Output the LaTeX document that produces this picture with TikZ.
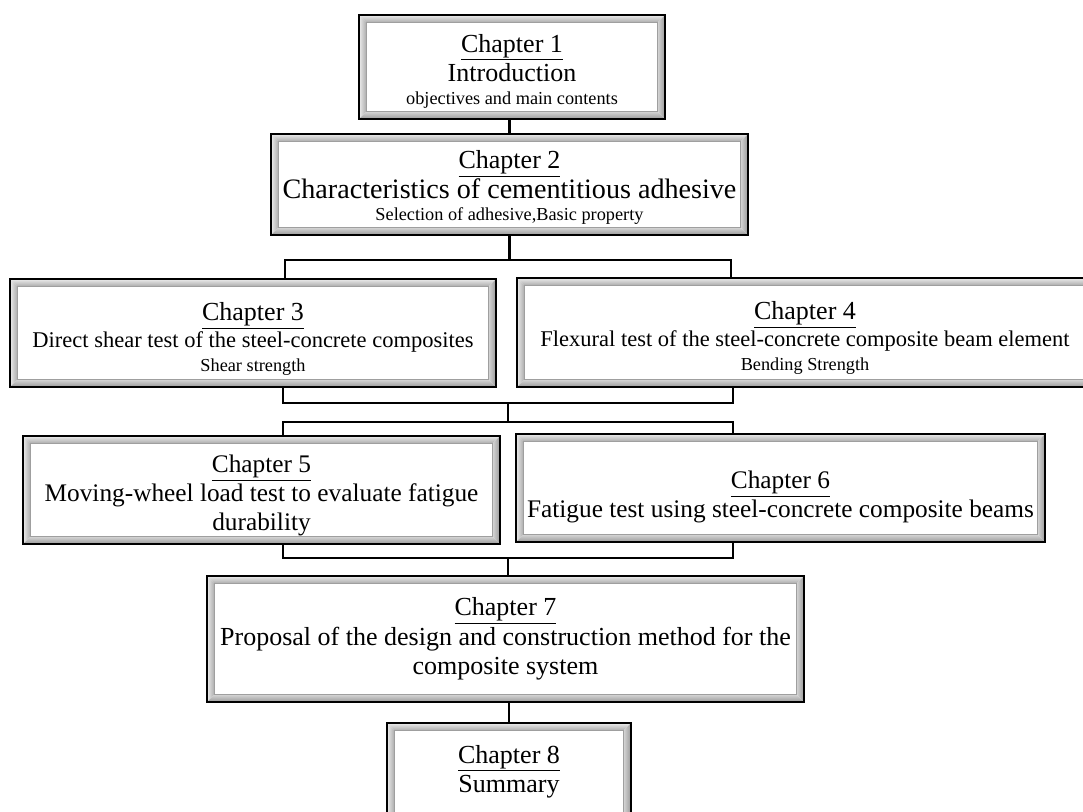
\documentclass[tikz,border=0pt]{standalone}
\usepackage{fontspec}
\setmainfont{Liberation Serif}
\newcommand{\subsize}{\fontsize{13}{15}\selectfont}
\newcommand{\midsize}{\fontsize{16}{19}\selectfont}
\newcommand{\chapline}[2][0pt]{\rule{0pt}{#1}\underline{Chapter #2}}
\newlength{\bev}\setlength{\bev}{0.18cm}

\begin{document}
\begin{tikzpicture}[x=0.025cm,y=-0.025cm,
  boxsize/.style 2 args={minimum width=#1*0.025cm, minimum height=#2*0.025cm},
  chap/.style={draw=black, line width=2pt, fill=white, align=center, inner sep=0pt,
    font=\fontsize{18.5}{21}\selectfont,
    path picture={
      \path (path picture bounding box.north west) coordinate (pnw)
            (path picture bounding box.north east) coordinate (pne)
            (path picture bounding box.south west) coordinate (psw)
            (path picture bounding box.south east) coordinate (pse);
      \shade[top color=gray!15, bottom color=gray!65]
        (pnw) -- (pne) -- ([xshift=-\bev,yshift=-\bev]pne) -- ([xshift=\bev,yshift=-\bev]pnw) -- cycle;
      \shade[left color=gray!15, right color=gray!65]
        (pnw) -- ([xshift=\bev,yshift=-\bev]pnw) -- ([xshift=\bev,yshift=\bev]psw) -- (psw) -- cycle;
      \shade[top color=gray!35, bottom color=gray!80]
        (psw) -- ([xshift=\bev,yshift=\bev]psw) -- ([xshift=-\bev,yshift=\bev]pse) -- (pse) -- cycle;
      \shade[left color=gray!35, right color=gray!80]
        (pne) -- (pse) -- ([xshift=-\bev,yshift=\bev]pse) -- ([xshift=-\bev,yshift=-\bev]pne) -- cycle;
      \draw[gray!75, line width=0.6pt] ([xshift=\bev,yshift=-\bev]pnw) rectangle ([xshift=-\bev,yshift=\bev]pse);
    }},
  link/.style={draw=black, line width=1.5pt}]
\useasboundingbox (0,0) rectangle (1083,811);

% boxes
\node[chap, boxsize={306}{104}] (c1) at (512,67)
  {\chapline[18.5pt]{1}\\Introduction\\[-5pt]{\subsize objectives and main contents}};
\node[chap, boxsize={477}{101}] (c2) at (509.5,184.5)
  {\chapline[17pt]{2}\\{\fontsize{20}{21}\selectfont Characteristics of cementitious adhesive}\\[-5pt]{\subsize Selection of adhesive,Basic property}};
\node[chap, boxsize={486}{108}] (c3) at (253,333)
  {\chapline[21pt]{3}\\[-2pt]{\midsize Direct shear test of the steel-concrete composites}\\[-4pt]{\subsize Shear strength}};
\node[chap, boxsize={576}{109}] (c4) at (805,332.5)
  {\chapline[21pt]{4}\\[-2pt]{\midsize Flexural test of the steel-concrete composite beam element}\\[-4pt]{\subsize Bending Strength}};
\node[chap, boxsize={477}{108}, font=\fontsize{18}{20.5}\selectfont] (c5) at (261.5,490)
  {\chapline[20pt]{5}\\Moving-wheel load test to evaluate fatigue\\durability};
\node[chap, boxsize={529}{108}, font=\fontsize{18}{20.5}\selectfont] (c6) at (780.5,488)
  {\chapline[25pt]{6}\\Fatigue test using steel-concrete composite beams};
\node[chap, boxsize={597}{126}] (c7) at (505.5,639)
  {\chapline{7}\\Proposal of the design and construction method for the\\composite system};
\node[chap, boxsize={244}{114}] (c8) at (509,780)
  {\chapline{8}\\Summary\rule[-16pt]{0pt}{1pt}};

% junctions
\coordinate (l1) at (285,260);
\coordinate (r1) at (731,260);
\coordinate (l2) at (283,403);
\coordinate (m2) at (508,403);
\coordinate (r2) at (733,403);
\coordinate (l3) at (283,422);
\coordinate (r3) at (733,422);
\coordinate (l4) at (283,558);
\coordinate (m4) at (508,558);
\coordinate (r4) at (733,558);

% connectors
\draw[link] (c2.north) -- (c2.north |- c1.south);
\draw[link] (c2.south) -- (c2.south |- l1);
\draw[link] (l1 |- c3.north) -- (l1) -- (r1) -- (r1 |- c4.north);
\draw[link] (l2 |- c3.south) -- (l2) -- (r2) -- (r2 |- c4.south);
\draw[link] (m2) -- (m2 |- l3);
\draw[link] (l3 |- c5.north) -- (l3) -- (r3) -- (r3 |- c6.north);
\draw[link] (l4 |- c5.south) -- (l4) -- (r4) -- (r4 |- c6.south);
\draw[link] (m4) -- (m4 |- c7.north);
\draw[link] (c8.north) -- (c8.north |- c7.south);

\end{tikzpicture}
\end{document}
